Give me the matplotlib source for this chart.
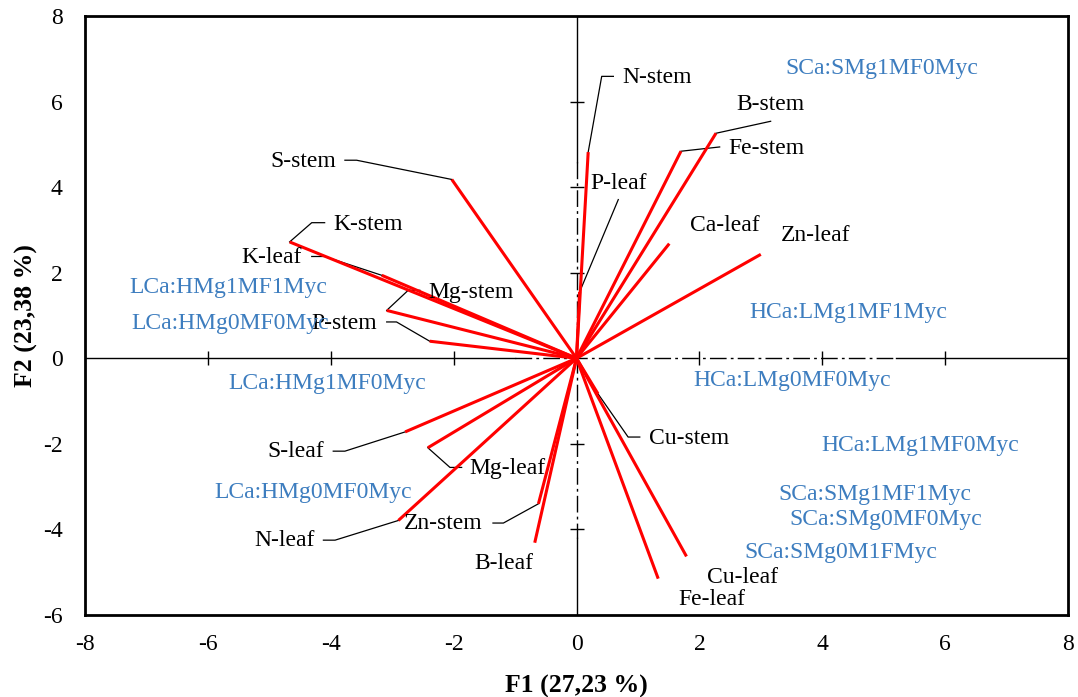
import matplotlib.pyplot as plt
import numpy as np

plt.rcParams['font.family'] = ['Liberation Serif', 'DejaVu Serif']
plt.rcParams['axes.unicode_minus'] = False

# variable loadings (F1, F2)
var_names = ['S-stem', 'K-stem', 'K-leaf', 'Mg-stem', 'P-stem', 'N-stem', 'P-leaf',
             'Fe-stem', 'B-stem', 'Ca-leaf', 'Zn-leaf', 'Cu-stem', 'Cu-leaf', 'Fe-leaf',
             'S-leaf', 'Mg-leaf', 'N-leaf', 'Zn-stem', 'B-leaf']
var_f1 = [-2.03, -4.67, -3.17, -3.09, -2.39, 0.19, 0.05,
          1.70, 2.27, 1.51, 3.00, 0.35, 1.79, 1.33,
          -2.79, -2.42, -2.90, -0.62, -0.68]
var_f2 = [4.18, 2.72, 1.94, 1.12, 0.40, 4.82, 1.55,
          4.84, 5.26, 2.68, 2.43, -0.83, -4.63, -5.15,
          -1.72, -2.09, -3.79, -3.40, -4.31]

# label positions for the variables
lab_x = [-4.45, -3.40, -4.96, -1.72, -3.79, 1.31, 0.69,
         3.09, 3.15, 2.41, 3.89, 1.83, 2.70, 2.21,
         -4.57, -1.12, -4.76, -2.17, -1.18]
lab_y = [4.60, 3.13, 2.36, 1.54, 0.82, 6.57, 4.09,
         4.90, 5.93, 3.11, 2.87, -1.87, -5.12, -5.63,
         -2.17, -2.57, -4.25, -3.86, -4.79]

# leader lines joining vectors to their labels
leaders = {
    'S-stem': [(-2.03, 4.18), (-3.58, 4.63), (-3.77, 4.63)],
    'K-stem': [(-4.67, 2.72), (-4.31, 3.17), (-4.10, 3.17)],
    'K-leaf': [(-3.17, 1.94), (-4.10, 2.38), (-4.31, 2.38)],
    'Mg-stem': [(-3.09, 1.12), (-2.74, 1.59), (-2.55, 1.59)],
    'P-stem': [(-2.39, 0.40), (-2.93, 0.85), (-3.09, 0.85)],
    'N-stem': [(0.19, 4.82), (0.41, 6.59), (0.60, 6.59)],
    'P-leaf': [(0.05, 1.55), (0.68, 3.71)],
    'Fe-stem': [(1.70, 4.84), (2.33, 4.94)],
    'B-stem': [(2.27, 5.26), (3.16, 5.54)],
    'Cu-stem': [(0.35, -0.83), (0.84, -1.84), (1.03, -1.84)],
    'S-leaf': [(-2.79, -1.72), (-3.77, -2.17), (-3.96, -2.17)],
    'Mg-leaf': [(-2.42, -2.09), (-2.06, -2.55), (-1.87, -2.55)],
    'N-leaf': [(-2.90, -3.79), (-3.93, -4.25), (-4.12, -4.25)],
    'Zn-stem': [(-0.62, -3.40), (-1.19, -3.85), (-1.36, -3.85)],
}

# treatment (observation) labels
obs_names = ['SCa:SMg1MF0Myc', 'HCa:LMg1MF1Myc', 'HCa:LMg0MF0Myc', 'HCa:LMg1MF0Myc',
             'SCa:SMg1MF1Myc', 'SCa:SMg0MF0Myc', 'SCa:SMg0M1FMyc', 'LCa:HMg1MF1Myc',
             'LCa:HMg0MF0Myc', 'LCa:HMg1MF0Myc', 'LCa:HMg0MF0Myc']
obs_f1 = [4.97, 4.43, 3.51, 5.59, 4.86, 5.03, 4.31, -5.67, -5.64, -4.05, -4.29]
obs_f2 = [6.78, 1.06, -0.51, -2.03, -3.18, -3.76, -4.53, 1.66, 0.82, -0.58, -3.13]

ticks_x = [-8, -6, -4, -2, 0, 2, 4, 6, 8]
ticks_y = [-6, -4, -2, 0, 2, 4, 6, 8]

fig = plt.figure(figsize=(10.78, 6.97), dpi=100)
ax = fig.add_axes([0.0789, 0.1176, 0.9118, 0.8594])
ax.set_xlim(-8, 8)
ax.set_ylim(-6, 8)

# central axes, partly dash-dotted
ax.plot([-8, -1.0], [0, 0], color='black', lw=1.0, zorder=1)
ax.plot([-1.0, 5.2], [0, 0], color='black', lw=1.0, ls=(0, (12, 3, 2, 3)), zorder=1)
ax.plot([5.2, 8], [0, 0], color='black', lw=1.0, zorder=1)
ax.plot([0, 0], [8, 4.6], color='black', lw=1.0, zorder=1)
ax.plot([0, 0], [4.6, -4.2], color='black', lw=1.0, ls=(0, (12, 3, 2, 3)), zorder=1)
ax.plot([0, 0], [-4.2, -6], color='black', lw=1.0, zorder=1)
ix = [t for t in ticks_x if t not in (0, -8, 8)]
iy = [t for t in ticks_y if t not in (0, -6, 8)]
ax.plot(ix, np.zeros(len(ix)), ls='none', marker='|', ms=10, mew=1.0, color='black', zorder=1)
ax.plot(np.zeros(len(iy)), iy, ls='none', marker='_', ms=10, mew=1.0, color='black', zorder=1)

for name, pts in leaders.items():
    xs, ys = zip(*pts)
    ax.plot(xs, ys, color='black', lw=0.9, zorder=2)

for x, y in zip(var_f1, var_f2):
    ax.plot([0, x], [0, y], color='#ff0000', lw=2.2, solid_capstyle='butt', zorder=3)

for name, x, y in zip(var_names, lab_x, lab_y):
    ax.text(x, y, name, fontsize=17, ha='center', va='center', color='black', zorder=4)

for name, x, y in zip(obs_names, obs_f1, obs_f2):
    ax.text(x, y, name, fontsize=17, ha='center', va='center', color='#3d7dbf', zorder=4)

ax.set_xticks(ticks_x)
ax.set_yticks(ticks_y)
ax.tick_params(axis='x', length=0, labelsize=17, pad=14)
ax.tick_params(axis='y', length=0, labelsize=17, pad=16)
for s in ax.spines.values():
    s.set_linewidth(2.0)

ax.set_xlabel('F1 (27,23 %)', fontsize=18.5, fontweight='bold', labelpad=14)
ax.set_ylabel('F2 (23,38 %)', fontsize=18.5, fontweight='bold', labelpad=4)

fig.savefig('out.png', dpi=100)
